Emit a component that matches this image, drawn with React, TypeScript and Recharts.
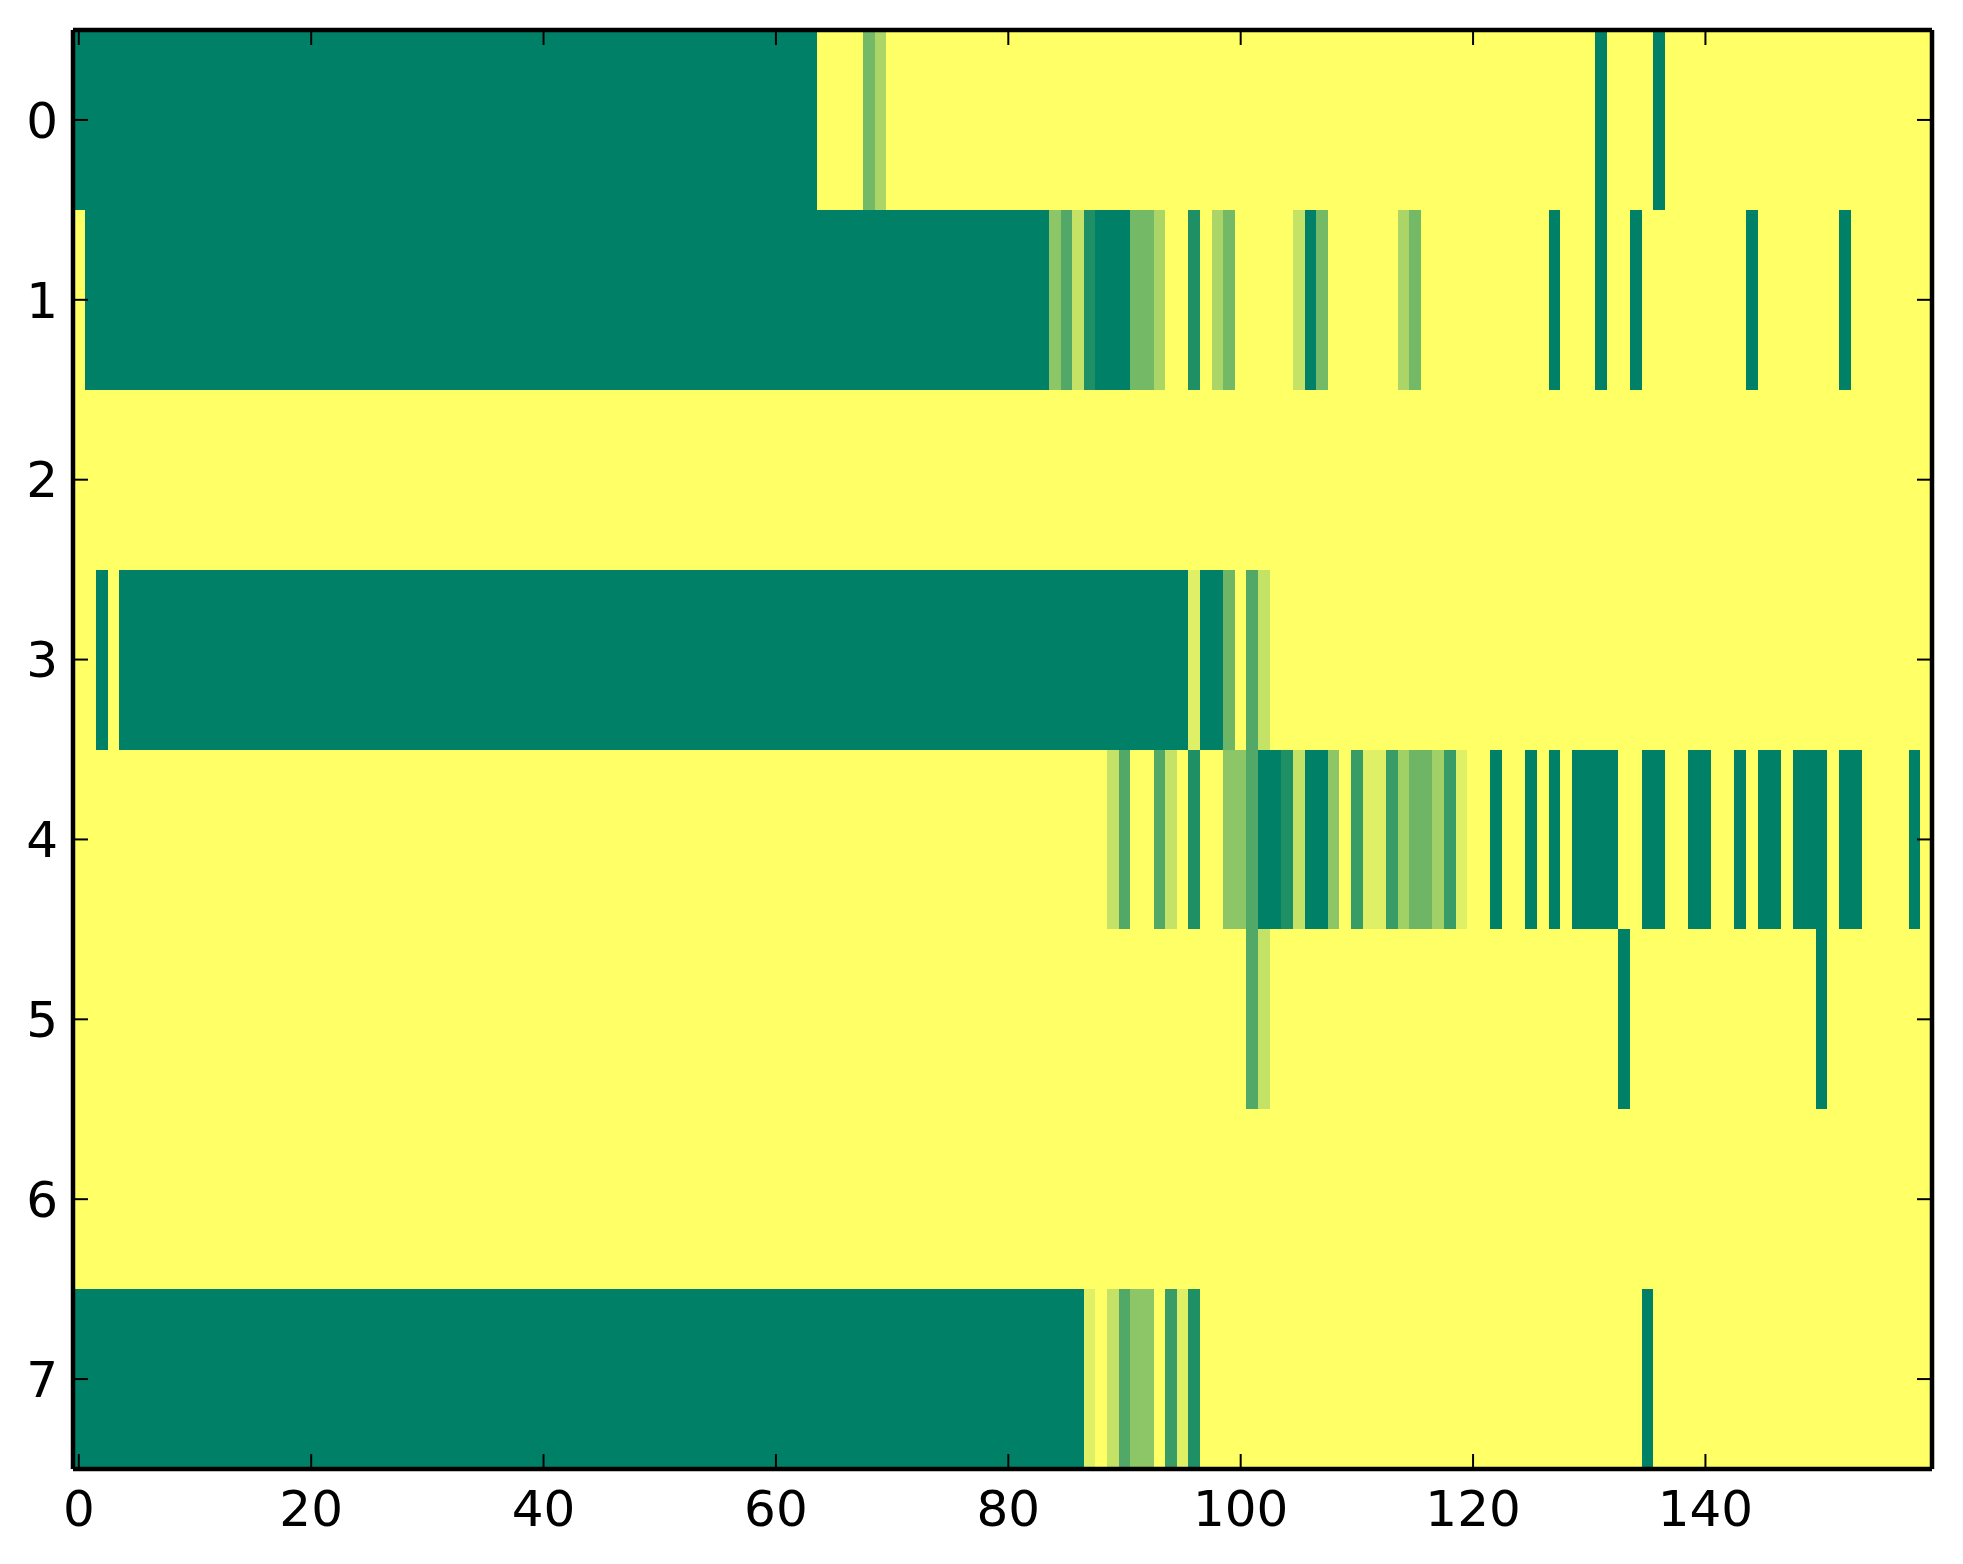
import { ScatterChart, Scatter, XAxis, YAxis } from 'recharts'

// Each row of the heatmap as [value, run length] pairs, 160 columns per row.
// Values are on the 0..1 scale of the "summer" colormap (0 = dark green, 1 = yellow).
const row0Runs = [[0, 64], [1, 4], [0.45, 1], [0.67, 1], [1, 61], [0, 1], [1, 4], [0, 1], [1, 23]]
const row1Runs = [
  [1, 1], [0, 83], [0.55, 1], [0.32, 1], [0.77, 1], [0.12, 1], [0, 3], [0.45, 2], [0.67, 1],
  [1, 2], [0.12, 1], [1, 1], [0.67, 1], [0.45, 1], [1, 5], [0.77, 1], [0, 1], [0.45, 1],
  [1, 6], [0.67, 1], [0.45, 1], [1, 11], [0, 1], [1, 3], [0, 1], [1, 2], [0, 1], [1, 9],
  [0, 1], [1, 7], [0, 1], [1, 7],
]
const row2Runs = [[1, 160]]
const row3Runs = [
  [1, 2], [0, 1], [1, 1], [0, 92], [0.88, 1], [0, 2], [0.43, 1], [1, 1], [0.32, 1], [0.77, 1], [1, 57],
]
const row4Runs = [
  [1, 89], [0.77, 1], [0.32, 1], [1, 2], [0.32, 1], [0.77, 1], [1, 1], [0.12, 1], [1, 2],
  [0.55, 2], [0.32, 1], [0, 2], [0.12, 1], [0.77, 1], [0, 2], [0.55, 1], [1, 1], [0.22, 1],
  [0.88, 2], [0.22, 1], [0.63, 1], [0.43, 2], [0.63, 1], [0.22, 1], [0.88, 1], [1, 2], [0, 1],
  [1, 2], [0, 1], [1, 1], [0, 1], [1, 1], [0, 4], [1, 2], [0, 2], [1, 2], [0, 2], [1, 2],
  [0, 1], [1, 1], [0, 2], [1, 1], [0, 3], [1, 1], [0, 2], [1, 4], [0, 1], [1, 1],
]
const row5Runs = [[1, 101], [0.32, 1], [0.77, 1], [1, 30], [0, 1], [1, 16], [0, 1], [1, 9]]
const row6Runs = [[1, 160]]
const row7Runs = [
  [0, 87], [0.88, 1], [1, 1], [0.77, 1], [0.32, 1], [0.55, 2], [1, 1], [0.22, 1], [0.88, 1],
  [0.12, 1], [1, 38], [0, 1], [1, 24],
]

const rowRuns = [row0Runs, row1Runs, row2Runs, row3Runs, row4Runs, row5Runs, row6Runs, row7Runs]
const xTicks = [0, 20, 40, 60, 80, 100, 120, 140]
const yTicks = [0, 1, 2, 3, 4, 5, 6, 7]

const N_COLS = 160
const N_ROWS = 8

const W = 1963
const H = 1564
const MARGIN = { top: 29, right: 30, bottom: 15, left: 8 }
const Y_AXIS_W = 65
const X_AXIS_H = 80
const EDGE_AXIS = 1 // thickness given to the label-less top and right axes
const PLOT_W = W - MARGIN.left - Y_AXIS_W - EDGE_AXIS - MARGIN.right
const PLOT_H = H - MARGIN.top - EDGE_AXIS - X_AXIS_H - MARGIN.bottom
const CELL_W = PLOT_W / N_COLS
const CELL_H = PLOT_H / N_ROWS

const cells = rowRuns.flatMap((runs, row) => {
  const out: { x: number; y: number; v: number }[] = []
  let col = 0
  runs.forEach(([v, n]) => {
    for (let i = 0; i < n; i++) out.push({ x: col++, y: row, v })
  })
  return out
})

// matplotlib "summer": r = v, g = 0.5 + v / 2, b = 0.4
const summer = (v: number) =>
  `rgb(${Math.round(255 * v)}, ${Math.round(127.5 + 127.5 * v)}, 102)`

const CellShape = (props: any) => {
  const { cx, cy, payload } = props
  return (
    <rect
      x={cx - CELL_W / 2}
      y={cy - CELL_H / 2}
      width={CELL_W + 0.5}
      height={CELL_H + 0.5}
      fill={summer(payload.v)}
      shapeRendering="crispEdges"
    />
  )
}

const NoShape = () => <g />

const font = { fill: '#000', fontSize: 50, fontFamily: 'DejaVu Sans' }
const spine = { stroke: '#000', strokeWidth: 4.5 }
const tickLine = { stroke: '#000', strokeWidth: 2 }
const blank = () => ''

// The same chart is drawn twice: once with the cells, once on top with only
// the frame and ticks, so the inward ticks sit above the image like matplotlib.
function Heatmap({ frame }: { frame: boolean }) {
  const show = frame
  return (
    <ScatterChart width={W} height={H} margin={MARGIN}>
      <Scatter
        data={cells}
        xAxisId="bottom"
        yAxisId="left"
        shape={frame ? <NoShape /> : <CellShape />}
        isAnimationActive={false}
      />
      <XAxis
        xAxisId="bottom"
        type="number"
        dataKey="x"
        domain={[-0.5, N_COLS - 0.5]}
        allowDataOverflow
        ticks={xTicks}
        interval={0}
        height={X_AXIS_H}
        tickSize={-15}
        tickMargin={36}
        axisLine={show ? spine : false}
        tickLine={show ? tickLine : false}
        tick={show ? font : false}
      />
      <XAxis
        xAxisId="top"
        orientation="top"
        type="number"
        dataKey="x"
        domain={[-0.5, N_COLS - 0.5]}
        allowDataOverflow
        ticks={xTicks}
        interval={0}
        height={EDGE_AXIS}
        tickSize={-15}
        axisLine={show ? spine : false}
        tickLine={show ? tickLine : false}
        tickFormatter={blank}
      />
      <YAxis
        yAxisId="left"
        type="number"
        dataKey="y"
        domain={[-0.5, N_ROWS - 0.5]}
        allowDataOverflow
        reversed
        ticks={yTicks}
        interval={0}
        width={Y_AXIS_W}
        tickSize={-15}
        tickMargin={30}
        axisLine={show ? spine : false}
        tickLine={show ? tickLine : false}
        tick={show ? font : false}
      />
      <YAxis
        yAxisId="right"
        orientation="right"
        type="number"
        dataKey="y"
        domain={[-0.5, N_ROWS - 0.5]}
        allowDataOverflow
        reversed
        ticks={yTicks}
        interval={0}
        width={EDGE_AXIS}
        tickSize={-15}
        axisLine={show ? spine : false}
        tickLine={show ? tickLine : false}
        tickFormatter={blank}
      />
    </ScatterChart>
  )
}

export default function App() {
  return (
    <div style={{ position: 'absolute', left: 0, top: 0, width: W, height: H, background: '#fff' }}>
      <div style={{ position: 'absolute', left: 0, top: 0 }}>
        <Heatmap frame={false} />
      </div>
      <div style={{ position: 'absolute', left: 0, top: 0 }}>
        <Heatmap frame={true} />
      </div>
    </div>
  )
}
